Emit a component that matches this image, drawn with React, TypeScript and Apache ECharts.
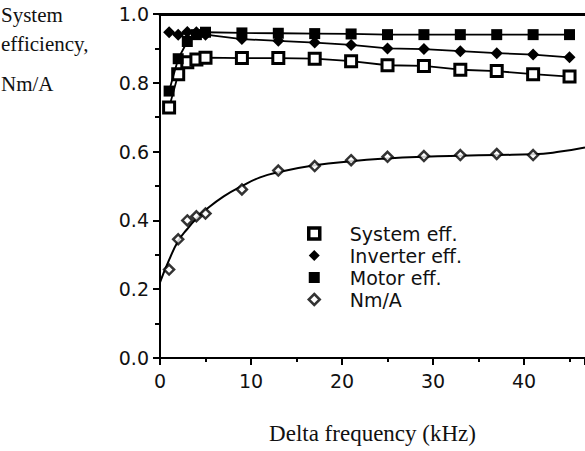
import React, { useEffect, useRef } from "react";
import * as echarts from "echarts";

const freqs = [1, 2, 3, 4, 5, 9, 13, 17, 21, 25, 29, 33, 37, 41, 45];
const systemEff = [0.728, 0.825, 0.86, 0.868, 0.873, 0.872, 0.872, 0.87, 0.863, 0.851, 0.849, 0.838, 0.834, 0.825, 0.818];
const inverterEff = [0.947, 0.94, 0.948, 0.947, 0.94, 0.927, 0.922, 0.917, 0.91, 0.9, 0.898, 0.892, 0.886, 0.882, 0.874];
const motorEff = [0.776, 0.87, 0.92, 0.94, 0.947, 0.945, 0.944, 0.943, 0.942, 0.94, 0.94, 0.94, 0.94, 0.94, 0.94];
const nmaFreqs = [1, 2, 3, 4, 5, 9, 13, 17, 21, 25, 29, 33, 37, 41];
const nmaValues = [0.257, 0.345, 0.4, 0.412, 0.42, 0.49, 0.545, 0.558, 0.575, 0.585, 0.587, 0.59, 0.593, 0.59];
const fitFreqs = [0, 1, 2, 3, 4, 5, 7, 9, 11, 13, 17, 21, 25, 29, 33, 37, 41, 44, 46.7];
const fitValues = [0.22, 0.285, 0.34, 0.375, 0.405, 0.43, 0.47, 0.5, 0.525, 0.54, 0.56, 0.572, 0.58, 0.585, 0.588, 0.59, 0.592, 0.6, 0.612];
const legendNames = ["System eff.", "Inverter eff.", "Motor eff.", "Nm/A"];
const yTitleLines = ["System", "efficiency,", "Nm/A"];
const xTitle = "Delta frequency (kHz)";

const pairs = (xs: number[], ys: number[]) => xs.map((x, i) => [x, ys[i]]);

export default function App() {
  const ref = useRef<HTMLDivElement>(null);
  useEffect(() => {
    document.body.style.margin = "0";
    const chart = echarts.init(ref.current!, null, { renderer: "svg" });
    const sans = "DejaVu Sans";
    const serif = "Liberation Serif";
    chart.setOption({
      animation: false,
      backgroundColor: "#fff",
      grid: { left: 160, right: 0, top: 14, bottom: 93 },
      xAxis: [
        {
          type: "value",
          min: 0,
          max: 46.7,
          interval: 10,
          name: xTitle,
          nameLocation: "middle",
          nameGap: 64,
          nameTextStyle: { fontFamily: serif, fontSize: 23, color: "#111" },
          axisLine: { show: true, lineStyle: { color: "#000", width: 2 } },
          axisTick: { show: true, length: 7, lineStyle: { color: "#000", width: 2 } },
          minorTick: { show: true, splitNumber: 2, length: 4, lineStyle: { color: "#000", width: 2 } },
          axisLabel: { margin: 13, fontFamily: sans, fontSize: 19, color: "#111", showMaxLabel: false },
          splitLine: { show: false },
        },
        {
          type: "value",
          position: "top",
          min: 0,
          max: 46.7,
          axisLine: { show: true, lineStyle: { color: "#000", width: 3 } },
          axisTick: { show: false },
          axisLabel: { show: false },
          splitLine: { show: false },
        },
      ],
      yAxis: {
        type: "value",
        min: 0,
        max: 1,
        interval: 0.2,
        axisLine: { show: true, lineStyle: { color: "#000", width: 2 } },
        axisTick: { show: true, length: 7, lineStyle: { color: "#000", width: 2 } },
        minorTick: { show: true, splitNumber: 2, length: 5, lineStyle: { color: "#000", width: 2 } },
        axisLabel: {
          margin: 11,
          fontFamily: sans,
          fontSize: 19,
          color: "#111",
          formatter: (v: number) => v.toFixed(1),
        },
        splitLine: { show: false },
      },
      legend: {
        orient: "vertical",
        left: 302,
        top: 219,
        itemWidth: 11,
        itemHeight: 11,
        itemGap: 3,
        textStyle: { fontFamily: sans, fontSize: 19, color: "#111", padding: [0, 0, 0, 25] },
        data: [
          { name: legendNames[0], icon: "rect", itemStyle: { color: "#fff", borderColor: "#000", borderWidth: 3.5 } },
          { name: legendNames[1], icon: "diamond", itemStyle: { color: "#000" } },
          { name: legendNames[2], icon: "rect", itemStyle: { color: "#000" } },
          { name: legendNames[3], icon: "diamond", itemStyle: { color: "#fff", borderColor: "#000", borderWidth: 2.5 } },
        ],
      },
      graphic: [
        { type: "text", left: 1, top: 4, style: { text: yTitleLines[0], fontFamily: serif, fontSize: 21, fill: "#111" } },
        { type: "text", left: 1, top: 33, style: { text: yTitleLines[1], fontFamily: serif, fontSize: 21, fill: "#111" } },
        { type: "text", left: 1, top: 73, style: { text: yTitleLines[2], fontFamily: serif, fontSize: 21, fill: "#111" } },
      ],
      series: [
        {
          name: "Nm/A fit",
          type: "line",
          smooth: true,
          showSymbol: false,
          symbol: "none",
          data: pairs(fitFreqs, fitValues),
          lineStyle: { color: "#000", width: 2 },
          z: 1,
        },
        {
          name: legendNames[0],
          type: "line",
          data: pairs(freqs, systemEff),
          symbol: "rect",
          symbolSize: 11,
          itemStyle: { color: "#fff", borderColor: "#000", borderWidth: 3 },
          lineStyle: { color: "#000", width: 1.8 },
          z: 3,
        },
        {
          name: legendNames[1],
          type: "line",
          data: pairs(freqs, inverterEff),
          symbol: "diamond",
          symbolSize: 12,
          itemStyle: { color: "#000" },
          lineStyle: { color: "#000", width: 1.8 },
          z: 3,
        },
        {
          name: legendNames[2],
          type: "line",
          data: pairs(freqs, motorEff),
          symbol: "rect",
          symbolSize: 11,
          itemStyle: { color: "#000" },
          lineStyle: { color: "#000", width: 1.8 },
          z: 4,
        },
        {
          name: legendNames[3],
          type: "scatter",
          data: pairs(nmaFreqs, nmaValues),
          symbol: "diamond",
          symbolSize: 10,
          itemStyle: { color: "#fff", borderColor: "#000", borderWidth: 2.5 },
          z: 5,
        },
      ],
    });
    return () => chart.dispose();
  }, []);
  return <div ref={ref} style={{ width: 585, height: 451 }} />;
}
